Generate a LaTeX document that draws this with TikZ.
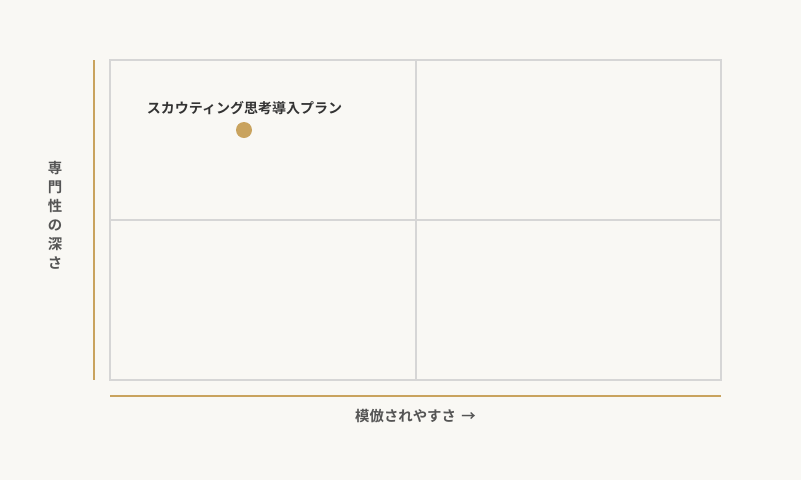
\documentclass[tikz,border=0pt]{standalone}
\usepackage{fontspec}
\usepackage{tikz}
\newfontfamily\jpfont{Noto Sans CJK JP}[BoldFont={Noto Sans CJK JP Bold}]
\definecolor{bgpaper}{RGB}{249,248,244}
\definecolor{goldaxis}{RGB}{201,163,94}
\definecolor{gridgray}{RGB}{214,214,214}
\definecolor{labelgray}{RGB}{85,85,85}
\definecolor{plantext}{RGB}{51,51,51}
\tikzset{
  gridline/.style={draw=gridgray, line width=1.5},
  axisline/.style={draw=goldaxis, line width=1.5},
  axislabel/.style={inner sep=0.75pt, font=\jpfont\bfseries\fontsize{10.8}{14.3}\selectfont, text=labelgray},
  planlabel/.style={inner sep=0.75pt, font=\jpfont\bfseries\fontsize{10.5}{12}\selectfont, text=plantext}
}

\begin{document}
\begin{tikzpicture}[x=0.75pt,y=0.75pt,yscale=-1]
%Background
\fill [bgpaper] (0,0) rectangle (801,480);
\useasboundingbox (0,0) rectangle (801,480);

%Shape: Rectangle [id:grid]
\draw [gridline] (110,60) rectangle (721,380);
%Straight Lines [id:midx]
\draw [gridline] (415.5,60) -- (415.5,380);
%Straight Lines [id:midy]
\draw [gridline] (110,219.5) -- (721,219.5);

%Straight Lines [id:yaxis]
\draw [axisline] (94,60) -- (94,380);
%Straight Lines [id:xaxis]
\draw [axisline] (110,396) -- (721,396);

%Shape: Circle [id:plan]
\fill [goldaxis] (244,130) circle [radius=8];
\coordinate (plan) at (244,130);

% Text Node
\node [planlabel] (planname) at (244.5,108) {スカウティング思考導入プラン};
% Text Node
\node [axislabel, align=center] (ylabel) at (55,215) {専\\門\\性\\の\\深\\さ};
% Text Node
\node [axislabel] (xlabel) at (415.5,416) {模倣されやすさ\hspace{4pt}\textrightarrow};

\end{tikzpicture}
\end{document}
